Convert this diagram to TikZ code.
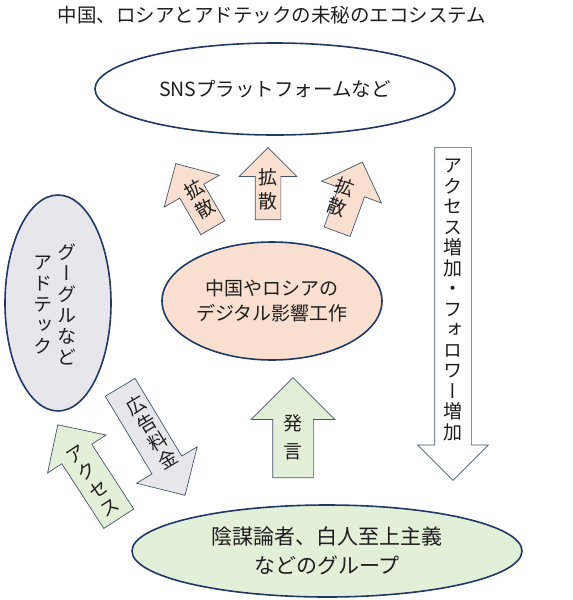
\documentclass[tikz,border=0pt]{standalone}
\usepackage{fontspec}
\setmainfont{Noto Sans CJK JP}
\newfontfamily\tatefont[RawFeature=+vert]{Noto Sans CJK JP}
\usetikzlibrary{shapes.geometric,shapes.arrows}
\definecolor{navy}{HTML}{1F3864}
\definecolor{peach}{HTML}{F9DFCF}
\definecolor{mint}{HTML}{E2EFD9}
\definecolor{fog}{HTML}{E7E7EB}
\definecolor{slate}{HTML}{44546A}
\definecolor{ink}{HTML}{1E1E1E}

\begin{document}
\begin{tikzpicture}[
  x=1pt,y=-1pt,
  oval/.style={ellipse,draw=navy,line width=1.6pt,inner sep=0pt,align=center,text=ink},
  blockarrow/.style={single arrow,draw=slate,line width=0.7pt,inner xsep=0pt,text height=0pt,text depth=0pt,single arrow tip angle=90,single arrow head indent=0pt,anchor=tail},
  tate/.style={align=center,text=ink,inner sep=0pt,font=\tatefont\fontsize{19}{#1}\selectfont},
  tate/.default=21
]
  \useasboundingbox (0,0) rectangle (573,600);
  \node[text=ink,font=\fontsize{19.5}{24}\selectfont] (title) at (272,15) {中国、ロシアとアドテックの未秘のエコシステム};

  % block arrows
  \node[blockarrow,fill=peach,rotate=90,minimum height=72pt,inner ysep=12.5pt,single arrow head extend=16pt] (spreadc) at (268,220) {};
  \node[blockarrow,fill=peach,rotate=120,minimum height=74pt,inner ysep=13.5pt,single arrow head extend=18pt] (spreadl) at (213,228) {};
  \node[blockarrow,fill=peach,rotate=70,minimum height=74pt,inner ysep=13.5pt,single arrow head extend=18pt] (spreadr) at (337,232) {};
  \node[blockarrow,fill=mint,rotate=90,minimum height=100pt,inner ysep=20pt,single arrow head extend=21.5pt] (speech) at (293,478) {};
  \node[blockarrow,fill=white,rotate=-90,minimum height=333pt,inner ysep=18pt,single arrow head extend=17pt] (follow) at (453,147) {};
  \node[blockarrow,fill=mint,rotate=123,minimum height=112pt,inner ysep=17.5pt,single arrow head extend=17pt] (access) at (119,519) {};
  \node[blockarrow,fill=fog,rotate=-59,minimum height=126pt,inner ysep=17pt,single arrow head extend=18pt] (adfee) at (120,387) {};

  \node[tate=24] (spreadc-t) at (268,189) {拡\\散};
  \node[tate=22,rotate=30] (spreadl-t) at (200,199) {拡\\散};
  \node[tate=22,rotate=-20] (spreadr-t) at (341,197) {拡\\散};
  \node[tate=28] (speech-t) at (293,437) {発\\言};
  \node[tate=20.5] (follow-t) at (453,300) {ア\\ク\\セ\\ス\\増\\加\\・\\フ\\ォ\\ロ\\ワ\\ー\\増\\加};
  \node[tate,rotate=33] (access-t) at (93,481) {ア\\ク\\セ\\ス};
  \node[tate,rotate=31] (adfee-t) at (152,432) {広\\告\\料\\金};

  % ellipses
  \node[oval,fill=white,minimum width=360pt,minimum height=92pt,font=\fontsize{19.5}{24}\selectfont] (sns) at (275,89) {SNSプラットフォームなど};
  \node[oval,fill=peach,minimum width=220pt,minimum height=118pt,font=\fontsize{19}{25}\selectfont] (influence) at (272,301) {中国やロシアの\\デジタル影響工作};
  \node[oval,fill=fog,minimum width=106pt,minimum height=216pt] (adtech) at (58,303) {};
  \node[tate] (adtech-r) at (67,304) {グ\\ー\\グ\\ル\\な\\ど};
  \node[tate] (adtech-l) at (43,305) {ア\\ド\\テ\\ッ\\ク};
  \node[oval,fill=mint,minimum width=390pt,minimum height=92pt,font=\fontsize{21}{29}\selectfont] (groups) at (327,551) {陰謀論者、白人至上主義\\などのグループ};
\end{tikzpicture}
\end{document}
